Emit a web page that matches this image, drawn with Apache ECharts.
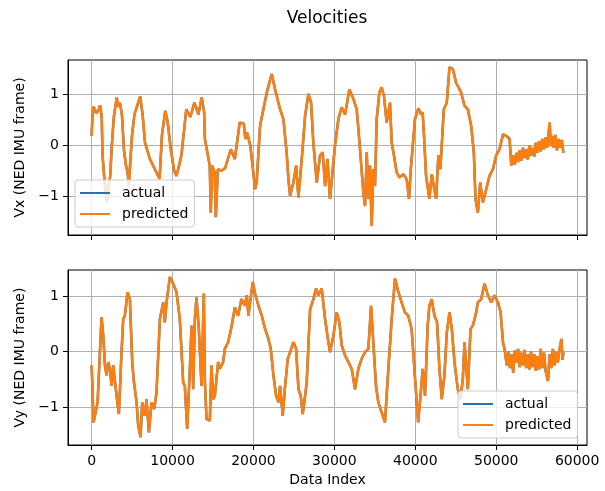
<!DOCTYPE html>
<html>
<head>
<meta charset="utf-8">
<script src="https://cdn.jsdelivr.net/npm/echarts@6/dist/echarts.min.js"></script>
<style>
  html, body { margin: 0; padding: 0; background: #fff; }
  #chart { width: 605px; height: 491px; }
</style>
</head>
<body>
<div id="chart"></div>
<script>
// Vx (top panel): sample index and velocity
var vxIndex = [0, 100, 250, 600, 900, 1050, 1250, 1350, 1550, 1850, 2050, 2300, 2500, 2750, 3100, 3300, 3500, 3750,
  4000, 4250, 4450, 4600, 4750, 5000, 5300, 5700, 6000, 6300, 6600, 7200, 7600, 8000, 8400, 8700, 9100, 9400,
  9800, 10200, 10500, 11100, 11700, 12200, 12700, 13200, 13600, 13900, 14000, 14600, 14730, 14900, 15200, 15350,
  15600, 16000, 16500, 17200, 17700, 18300, 18800, 19000, 19200, 19600, 19800, 20200, 20400, 20820, 21230, 21650,
  22260, 22670, 23290, 23700, 24100, 24320, 24530, 24940, 25270, 25560, 25970, 26380, 26790, 27120, 27400, 27820,
  28230, 28560, 28850, 29140, 29460, 30080, 30490, 30900, 31320, 31850, 32350, 32760, 33170, 33580, 33790, 34000,
  34200, 34400, 34610, 34810, 35020, 35230, 35560, 35840, 36130, 36460, 36870, 37080, 37360, 37690, 38020, 38520,
  38930, 39220, 39460, 39960, 40370, 40710, 40910, 41120, 41330, 41740, 42030, 42280, 42570, 42850, 43100, 43520,
  43890, 44220, 44630, 45040, 45660, 46080, 46490, 46900, 47230, 47440, 47730, 48020, 48350, 48760, 49170, 49590,
  50000, 50410, 50830, 51240, 51650, 51860, 52100, 52300, 52500, 52700, 52900, 53100, 53300, 53500, 53700, 53900,
  54100, 54300, 54500, 54700, 54900, 55100, 55300, 55500, 55700, 55900, 56100, 56300, 56600, 56750, 56900, 57100,
  57300, 57500, 57700, 57900, 58100, 58300];
var vxValues = [0.18, 0.55, 0.75, 0.62, 0.70, 0.78, 0.55, -0.2, -0.6, -1.12, -1.15, -0.6, 0.0, 0.55, 0.93, 0.75, 0.83, 0.6,
  -0.1, -0.4, -0.53, -0.8, -0.4, 0.2, 0.6, 0.8, 0.95, 0.6, 0.05, -0.27, -0.4, -0.53, -0.66, 0.2, 0.67, 0.45,
  -0.1, -0.5, -0.6, -0.2, 0.7, 0.55, 0.83, 0.6, 0.93, 0.65, 0.12, -0.4, -1.32, -0.4, -0.53, -1.41,
  -0.47, -0.5, -0.45, -0.08, -0.27, 0.44, 0.42, 0.12, 0.25, 0.0, -0.27, -0.86, -0.72, 0.38, 0.7, 1.03,
  1.39, 1.09, 0.7, 0.51, -0.14, -0.66, -0.99, -0.73, -0.4, -1.02, -0.27, 0.57, 1.0, 0.83, 0.05, -0.73,
  -0.2, -0.14, -0.8, -0.27, -1.05, 0.0, 0.51, 0.74, 0.6, 1.09, 0.9, 0.7, -0.08, -0.93, -1.19, -0.14,
  -1.05, -0.4, -1.58, -0.47, -0.8, 0.51, 1.03, 1.13, 0.96, 0.44, 0.83, 0.05, -0.2, -0.53, -0.63, -0.57,
  -0.66, -1.05, -0.44, 0.51, 0.72, 0.6, 0.64, 0.05, -0.6, -1.05, -0.57, -0.8, -1.05, -0.2, -0.47, 0.7,
  0.83, 1.52, 1.49, 1.22, 1.03, 0.77, 0.7, 0.38, -0.14, -1.05, -1.32, -0.73, -1.12, -0.86, -0.6, -0.47,
  -0.2, -0.08, 0.21, 0.18, 0.12, -0.4, -0.2, -0.38, -0.15, -0.33, -0.1, -0.3, -0.05, -0.25, -0.08, -0.28,
  0.0, -0.2, -0.05, -0.22, 0.05, -0.15, 0.08, -0.12, 0.12, -0.08, 0.15, -0.05, 0.44, -0.02, 0.18, -0.05,
  0.2, -0.1, 0.12, -0.05, 0.1, -0.15];

// Vy (bottom panel)
var vyIndex = [0, 80, 250, 490, 740, 1030, 1230, 1440, 1650, 1850, 2060, 2260, 2470, 2670, 2880, 3090, 3370, 3700,
  3910, 4110, 4440, 4730, 5020, 5230, 5560, 5760, 6050, 6250, 6580, 6790, 7080, 7410, 7740, 8020, 8440, 8850,
  9050, 9260, 9670, 10080, 10490, 10900, 11320, 11520, 11810, 12140, 12350, 12550, 12760, 12960, 13250, 13580,
  13870, 13990, 14200, 14610, 14810, 15020, 15230, 15430, 15640, 15840, 16250, 16460, 16870, 17280, 17700, 18100,
  18520, 18930, 19180, 19380, 19670, 19920, 20200, 20620, 21030, 21440, 21850, 22140, 22470, 22800, 23090, 23290,
  23620, 23910, 24240, 24530, 24940, 25270, 25560, 25840, 26090, 26380, 26580, 27000, 27410, 27740, 28020, 28440,
  28850, 29140, 29460, 29880, 30290, 30620, 30910, 31320, 31730, 32140, 32550, 32960, 33370, 33790, 34200, 34530,
  34810, 35140, 35430, 35840, 36250, 36670, 37080, 37490, 37900, 38310, 38720, 39130, 39540, 39750, 39960, 40350,
  40710, 40910, 41200, 41530, 41740, 42030, 42360, 42690, 42980, 43270, 43600, 43890, 44220, 44510, 44840, 45250,
  45580, 45870, 46080, 46280, 46490, 46820, 47110, 47320, 47520, 47730, 48140, 48550, 48970, 49380, 49790, 50210,
  50540, 50830, 51030, 51300, 51500, 51700, 51900, 52100, 52300, 52500, 52700, 52900, 53100, 53300, 53500, 53700,
  53900, 54100, 54300, 54500, 54700, 54900, 55100, 55300, 55500, 55700, 55900, 56100, 56400, 56600, 56800, 57000,
  57200, 57400, 57600, 57800, 58050, 58200, 58300];
var vyValues = [-0.25, -0.55, -1.28, -1.1, -0.92, -0.01, 0.62, 0.29, -0.25, -0.43, -0.19, -0.31, -0.62, -0.25, -0.25, -0.8, -1.13, -0.01,
  0.59, 0.65, 1.07, 0.95, -0.19, -0.55, -0.92, -1.34, -1.55, -0.92, -1.16, -0.86, -1.46, -0.92, -1.04, -0.74, 0.59, 0.89,
  0.53, 0.89, 1.35, 1.23, 1.08, 0.59, -0.56, -0.62, -1.4, -0.31, 0.47, -0.68, 0.59, 0.98, 0.41, -0.62,
  1.05, -0.5, -1.22, -1.25, -0.25, -0.86, -0.8, -0.5, -0.19, -0.31, -0.19, 0.05, 0.17, 0.44, 0.8, 0.65,
  0.95, 0.83, 1.02, 0.65, 0.98, 1.26, 1.05, 0.83, 0.65, 0.41, 0.23, 0.05, -0.43, -0.8, -0.92, -0.62,
  -1.16, -0.62, -0.13, -0.01, 0.17, 0.05, -0.68, -0.8, -1.13, -0.8, -0.56, 0.77, 0.95, 1.14, 1.02, 1.14,
  0.59, 0.29, -0.01, 0.29, 0.71, 0.53, 0.11, -0.07, -0.19, -0.31, -0.68, -0.31, -0.13, -0.01, 0.05, 0.83,
  0.17, -0.62, -0.92, -1.1, -1.28, -0.31, 0.59, 1.32, 1.08, 0.89, 0.71, 0.65, 0.41, -0.01, -0.47, -1.28,
  -0.68, -0.31, -0.8, 0.47, 0.83, 0.95, 0.65, 0.53, -0.31, -0.86, -0.43, 0.35, 0.71, 0.41, -0.19, -0.68,
  -0.86, -0.5, 0.17, 0.2, -0.68, 0.41, 0.47, 0.59, 0.71, 0.89, 0.95, 1.23, 1.02, 0.89, 1.02, 0.89,
  0.71, 0.17, 0.05, -0.25, 0.0, -0.3, -0.05, -0.38, 0.02, -0.2, 0.05, -0.28, -0.02, -0.25, 0.03, -0.3,
  -0.05, -0.32, 0.0, -0.28, -0.05, -0.35, -0.08, -0.32, 0.05, -0.3, -0.02, -0.35, -0.53, -0.05, -0.3, 0.05,
  -0.25, 0.0, -0.2, 0.02, 0.23, -0.15, 0.0];

var xTicks = [0, 10000, 20000, 30000, 40000, 50000, 60000];
var yTicks = [-1, 0, 1];
var legendNames = ['actual', 'predicted'];

function pairs(xs, ys) {
  return xs.map(function (x, i) { return [x, ys[i]]; });
}

var fontFamily = 'DejaVu Sans';
var tickFmt = function (v) { return v < 0 ? '\u2212' + Math.abs(v) : String(v); };

function makeX(idx, showLabels) {
  return {
    type: 'value', gridIndex: idx, min: -2915, max: 61215,
    name: showLabels ? 'Data Index' : '',
    nameLocation: 'middle', nameGap: 28,
    nameTextStyle: { color: '#000', fontSize: 14, fontFamily: fontFamily },
    axisLine: { show: true, onZero: false, lineStyle: { color: '#000', width: 1 } },
    axisTick: { show: true, length: 5, customValues: xTicks, lineStyle: { color: '#000' } },
    axisLabel: { show: showLabels, customValues: xTicks, margin: 9, color: '#000', fontSize: 14,
      fontFamily: fontFamily, formatter: function (v) { return String(v); } },
    splitLine: { show: true, lineStyle: { color: '#b0b0b0', width: 1 } }
  };
}

function makeY(idx, min, max, label) {
  return {
    type: 'value', gridIndex: idx, min: min, max: max,
    name: label, nameLocation: 'middle', nameGap: 38, nameRotate: 90,
    nameTextStyle: { color: '#000', fontSize: 14, fontFamily: fontFamily },
    axisLine: { show: true, onZero: false, lineStyle: { color: '#000', width: 1 } },
    axisTick: { show: true, length: 5, customValues: yTicks, lineStyle: { color: '#000' } },
    axisLabel: { customValues: yTicks, margin: 9, color: '#000', fontSize: 14, fontFamily: fontFamily, formatter: tickFmt },
    splitLine: { show: true, lineStyle: { color: '#b0b0b0', width: 1 } }
  };
}

function makeLegend(left, top) {
  return {
    orient: 'vertical', left: left, top: top,
    data: legendNames,
    icon: 'rect', itemWidth: 30, itemHeight: 2, itemGap: 5,
    padding: [5, 6, 5, 5],
    backgroundColor: 'rgba(255,255,255,0.8)',
    borderColor: '#cccccc', borderWidth: 1, borderRadius: 3,
    textStyle: { color: '#000', fontSize: 14, fontFamily: fontFamily, lineHeight: 16, padding: [0, 0, 0, 7] },
    selectedMode: false
  };
}

function makeSeries(name, color, xi, data) {
  return {
    name: name, type: 'line', xAxisIndex: xi, yAxisIndex: xi,
    data: data, showSymbol: false, symbol: 'none',
    lineStyle: { color: color, width: 2.5 },
    itemStyle: { color: color },
    emphasis: { disabled: true }
  };
}

var chart = echarts.init(document.getElementById('chart'), null, { renderer: 'canvas' });
chart.setOption({
  animation: false,
  backgroundColor: '#fff',
  title: {
    text: 'Velocities', left: 322, top: 5, textAlign: 'center',
    textStyle: { color: '#000', fontSize: 17, fontWeight: 'normal', fontFamily: fontFamily }
  },
  grid: [
    { left: 68, top: 60, width: 519, height: 175, show: true, borderColor: '#000', borderWidth: 1, backgroundColor: 'transparent' },
    { left: 68, top: 270, width: 519, height: 175, show: true, borderColor: '#000', borderWidth: 1, backgroundColor: 'transparent' }
  ],
  xAxis: [makeX(0, false), makeX(1, true)],
  yAxis: [
    makeY(0, -1.756, 1.664, 'Vx (NED IMU frame)'),
    makeY(1, -1.69, 1.477, 'Vy (NED IMU frame)')
  ],
  legend: [makeLegend(75, 180), makeLegend(458, 391)],
  series: [
    makeSeries('actual', '#1f77b4', 0, pairs(vxIndex, vxValues)),
    makeSeries('predicted', '#ff7f0e', 0, pairs(vxIndex, vxValues)),
    makeSeries('actual', '#1f77b4', 1, pairs(vyIndex, vyValues)),
    makeSeries('predicted', '#ff7f0e', 1, pairs(vyIndex, vyValues))
  ]
});
</script>
</body>
</html>
